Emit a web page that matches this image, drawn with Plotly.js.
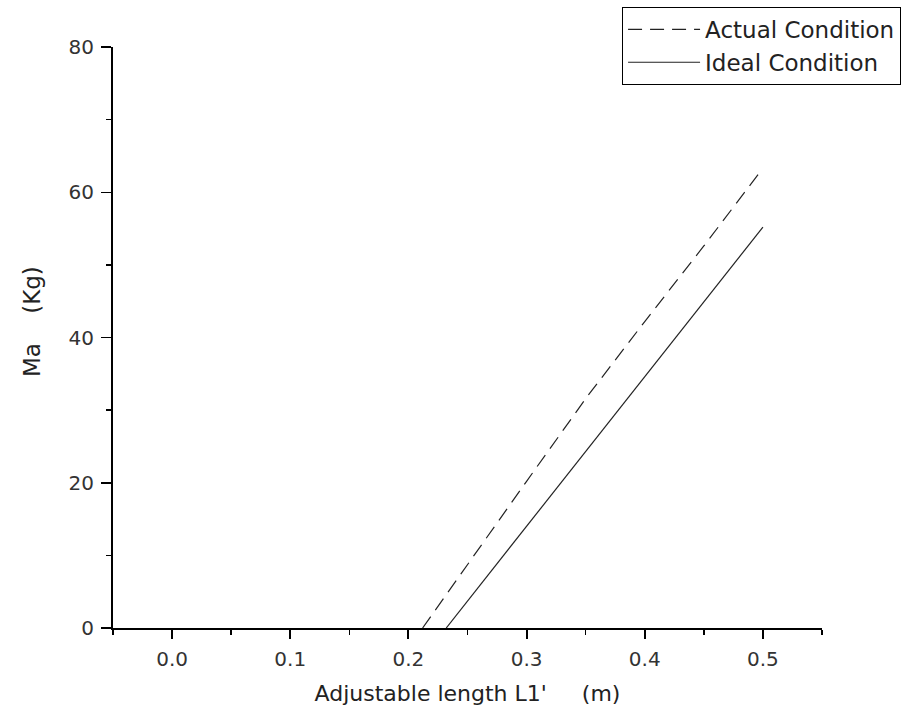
<!DOCTYPE html>
<html>
<head>
<meta charset="utf-8">
<script src="https://cdn.plot.ly/plotly-3.0.1.min.js"></script>
<style>html,body{margin:0;padding:0;background:#fff;}#chart{width:905px;height:715px;}</style>
</head>
<body>
<div id="chart"></div>
<script>
var actualX = [0.212, 0.25, 0.30, 0.351, 0.40, 0.45, 0.50];
var actualY = [0, 8.8, 20.2, 31.8, 42.2, 52.6, 63.3];
var idealX = [0.232, 0.30, 0.35, 0.40, 0.45, 0.50];
var idealY = [0, 14.0, 24.3, 34.6, 44.9, 55.2];
var seriesNames = ["Actual Condition", "Ideal Condition"];
var xTitle = "Adjustable length L1'     (m)";
var yTitle = "Ma    (Kg)";

var traces = [
  {x: actualX, y: actualY, name: seriesNames[0], mode: "lines", type: "scatter",
   line: {color: "#222", width: 1.2, dash: "14px,8px"}},
  {x: idealX, y: idealY, name: seriesNames[1], mode: "lines", type: "scatter",
   line: {color: "#222", width: 1.2}}
];

var fam = "DejaVu Sans, Liberation Sans, Arial, sans-serif";
var axisFont = {family: fam, size: 20, color: "#333"};
var layout = {
  width: 905, height: 715,
  margin: {l: 113, r: 83, t: 47, b: 87, autoexpand: false},
  paper_bgcolor: "#fff", plot_bgcolor: "#fff",
  font: {family: fam, color: "#222"},
  showlegend: true,
  legend: {x: 0.718, xanchor: "left", y: 1.069, yanchor: "top",
    bordercolor: "#000", borderwidth: 1, bgcolor: "#fff",
    font: {size: 23, color: "#222"}, tracegroupgap: 0, itemwidth: 72},
  xaxis: {
    range: [-0.05, 0.55], tick0: 0, dtick: 0.1, tickformat: ".1f",
    showline: true, linecolor: "#000", linewidth: 2, mirror: false,
    ticks: "outside", ticklen: 9, tickwidth: 2, tickcolor: "#000",
    minor: {dtick: 0.05, tick0: 0.05, ticks: "outside", ticklen: 5, tickwidth: 1.5, tickcolor: "#000"},
    showgrid: false, zeroline: false, tickfont: axisFont, ticklabelstandoff: 3,
    automargin: false,
    title: {text: xTitle, font: {size: 22, color: "#222"}, standoff: 16}
  },
  yaxis: {
    range: [0, 80], tick0: 0, dtick: 20,
    showline: true, linecolor: "#000", linewidth: 2, mirror: false,
    ticks: "outside", ticklen: 10, tickwidth: 1.5, tickcolor: "#000",
    minor: {dtick: 10, ticks: "outside", ticklen: 5, tickwidth: 1.5, tickcolor: "#000"},
    showgrid: false, zeroline: false, tickfont: axisFont, ticklabelstandoff: 3,
    automargin: false
  },
  annotations: [{
    text: yTitle, textangle: -90, showarrow: false,
    xref: "paper", yref: "paper", x: -0.114, y: 0.527,
    xanchor: "center", yanchor: "middle",
    font: {size: 23, color: "#222", family: fam}
  }]
};

Plotly.newPlot("chart", traces, layout, {displayModeBar: false, staticPlot: true});
</script>
</body>
</html>
